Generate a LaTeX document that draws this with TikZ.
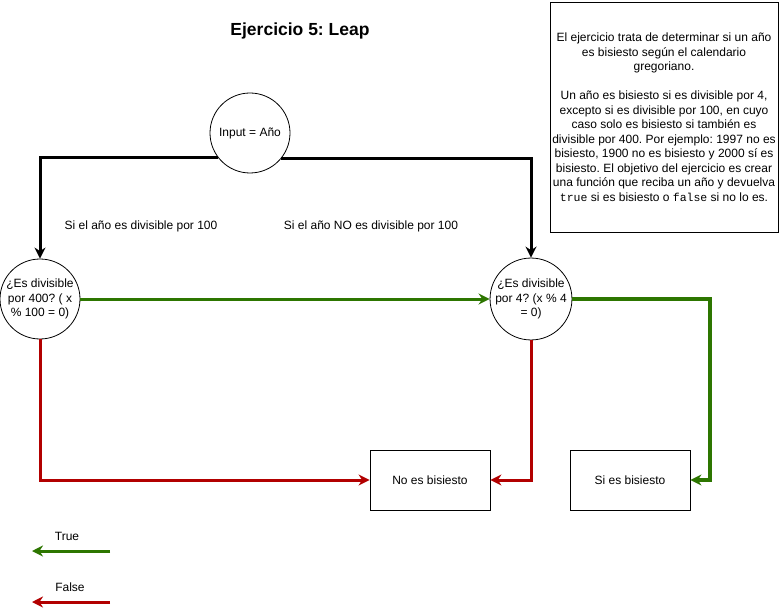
\documentclass[tikz,border=0pt]{standalone}
\usepackage{fontspec}
\setmainfont{Liberation Sans}
\setmonofont{Liberation Mono}
\usetikzlibrary{arrows.meta}
\definecolor{tgreen}{HTML}{2D7600}
\definecolor{fred}{HTML}{B20000}
\frenchspacing
\begin{document}
\begin{tikzpicture}[x=1pt,y=-1pt,
  font=\fontsize{12}{14.5}\selectfont,
  circ/.style={circle,draw,fill=white,line width=0.8pt,minimum size=80pt,inner sep=0pt,align=center},
  box/.style={rectangle,draw,fill=white,line width=0.8pt,minimum width=120pt,minimum height=60pt,inner sep=0pt,align=center},
  tip/.style={-{Stealth[length=11pt,width=11pt,inset=3.5pt]}},
  blk/.style={tip,line width=3pt,black},
  grn/.style={tip,line width=3pt,tgreen},
  grnb/.style={tip,line width=4pt,tgreen},
  rd/.style={tip,line width=3pt,fred},
  lbl/.style={inner sep=0pt}]
\useasboundingbox (0,0) rectangle (781,612);
\fill[white] (0,0) rectangle (781,612);

\node[lbl,font=\fontsize{17.5}{20}\selectfont\bfseries] (title) at (300,31) {Ejercicio 5: Leap};

\node[circ] (input) at (250,133) {Input = Año};
\node[circ] (d400) at (40,299) {¿Es divisible\\por 400? ( x\\\% 100 = 0)};
\node[circ] (d4) at (531,299) {¿Es divisible\\por 4? (x \% 4\\= 0)};
\node[box] (nob) at (430,480) {No es bisiesto};
\node[box] (sib) at (630,480) {Si es bisiesto};

\node[rectangle,draw,line width=0.8pt,minimum width=228pt,minimum height=230pt,inner sep=0pt,align=center] (desc) at (664,117)
{El ejercicio trata de determinar si un año\\
es bisiesto según el calendario\\
gregoriano.\\[14.5pt]
Un año es bisiesto si es divisible por 4,\\
excepto si es divisible por 100, en cuyo\\
caso solo es bisiesto si también es\\
divisible por 400. Por ejemplo: 1997 no es\\
bisiesto, 1900 no es bisiesto y 2000 sí es\\
bisiesto. El objetivo del ejercicio es crear\\
una función que reciba un año y devuelva\\
\texttt{\fontsize{11.5}{14.5}\selectfont true} si es bisiesto o \texttt{\fontsize{11.5}{14.5}\selectfont false} si no lo es.};

\node[lbl] (l100) at (141,226) {Si el año es divisible por 100};
\node[lbl] (lno100) at (371,226) {Si el año NO es divisible por 100};

\draw[blk] (input.218.7) -| (d400.north);
\draw[blk] (input.321.3) -| (d4.north);
\draw[grn] (d400.east) -- (d4.west);
\draw[rd] (d400.south) |- (nob.west);
\draw[rd] (d4.south) |- (nob.east);
\coordinate (gcorner) at (710,299);
\draw[grnb,line join=miter] (d4.east) -- (gcorner) |- (sib.east);

\coordinate (ts) at (110,551);
\coordinate (te) at (32,551);
\draw[grn] (ts) -- (te);
\node[lbl] (ltrue) at (67,536) {True};
\coordinate (fs) at (110,602);
\coordinate (fe) at (32,602);
\draw[rd] (fs) -- (fe);
\node[lbl] (lfalse) at (70,587) {False};
\end{tikzpicture}
\end{document}
